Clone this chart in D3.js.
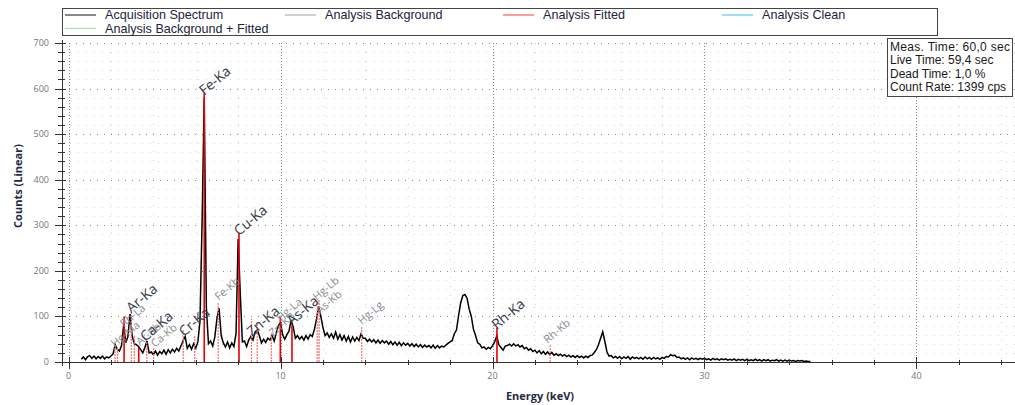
<!DOCTYPE html>
<html><head><meta charset="utf-8">
<script src="https://cdn.jsdelivr.net/npm/d3@7"></script>
<style>
body{margin:0;background:#fff;}
svg{display:block;}
</style></head>
<body><svg id="chart" width="1015" height="405"></svg>
<script>
// ---------- data ----------
const legendItems = ["Acquisition Spectrum","Analysis Background","Analysis Fitted","Analysis Clean","Analysis Background + Fitted"];
const legendColors = ["#3a3a3a","#b0b0b0","#ff5a5a","#5ccaf0","#a6e6a0"];
const infoLines = ["Meas. Time: 60,0 sec","Live Time: 59,4 sec","Dead Time: 1,0 %","Count Rate: 1399 cps"];
const xTickLabels = [0,10,20,30,40];
const yTickLabels = [0,100,200,300,400,500,600,700];
const energyStart = 0.6, energyStep = 0.1;
const counts = [
 6,11,5,12,
 14,8,13,7,12,8,13,7,11,9,
 13,18,38,28,24,36,82,42,56,105,
 58,40,38,34,27,20,32,46,20,22,
 16,24,15,23,18,26,17,27,20,28,
 22,30,24,35,46,56,30,38,28,40,
 30,44,90,310,580,120,40,46,35,55,
 95,118,58,42,33,44,31,42,34,62,
 270,150,44,46,34,48,56,48,66,70,
 58,42,50,43,52,48,58,46,64,80,
 86,60,50,60,68,92,76,52,58,50,
 56,48,58,50,60,56,72,95,122,100,
 76,58,64,54,62,52,66,50,60,48,
 58,46,56,44,55,46,54,47,62,52,
 52,45,50,44,49,42,48,41,47,42,
 46,39,45,38,44,37,43,36,42,37,
 41,35,40,34,39,33,38,32,37,33,
 36,31,37,30,36,31,35,33,37,41,
 44,47,62,70,102,130,146,148,140,116,
 100,72,58,42,39,31,33,28,32,29,
 36,44,57,38,32,26,35,36,39,35,
 40,35,38,33,36,29,32,26,29,23,
 26,20,25,18,23,17,22,16,21,15,
 18,14,17,13,16,12,15,11,14,10,
 14,10,13,9,13,10,14,15,21,27,
 38,52,66,45,22,13,14,9,12,8,
 12,7,11,8,12,6,11,8,10,7,
 10,6,11,7,10,6,10,7,9,6,
 10,8,12,11,16,14,15,10,11,7,
 9,6,9,5,9,6,8,5,8,6,
 8,5,7,4,8,5,7,4,7,5,
 7,4,6,4,7,3,6,4,6,3,
 6,3,5,3,6,3,5,2,5,3,
 5,2,4,3,5,2,4,2,4,2,
 4,2,3,1,3,2,3,1,2,1,
 1
];
// element line markers: energy (keV), height (counts), solid?
const markerEnergy = [2.19,2.31,2.62,2.96,3.10,3.31,3.69,4.01,5.41,5.95,6.40,7.06,8.04,8.63,8.90,9.57,9.99,10.54,11.73,11.82,13.83,20.21,22.72];
const markerHeight = [37,30,100,110,60,31,48,30,70,60,590,130,283,95,88,63,98,80,130,136,77,75,37];
const markerSolid  = [0,0,1,0,0,1,0,0,0,0,1,0,1,0,0,0,1,1,0,0,0,1,0];
// peak labels: text, anchor energy, anchor counts, big?
const labelText   = ["Hg-Ma","Rh-La","Ar-Ka","Ar-Kb","Ca-Ka","Ca-Kb","Cr-Ka","Fe-Ka","Fe-Kb","Cu-Ka","Zn-Ka","Zn-Kb","Hg-La","As-Ka","Hg-Lb","As-Kb","Hg-Lg","Rh-Ka","Rh-Kb"];
const labelEnergy = [2.19,2.62,2.96,3.37,3.62,4.07,5.44,6.40,7.08,8.04,8.65,9.64,9.99,10.53,11.71,11.87,13.83,20.20,22.60];
const labelCounts = [31,75,107,35,44,31,55,584,134,276,55,55,88,79,134,105,81,70,40];
const labelBig    = [0,0,1,0,1,0,1,1,0,1,1,0,0,1,0,0,0,1,0];

// ---------- chart ----------
const svg = d3.select("#chart");
const L = 62, R = 1015, T = 43, B = 362;
const x = d3.scaleLinear().domain([-0.31, 44.65]).range([L, R]);
const y = d3.scaleLinear().domain([0, 700]).range([B, T]);

// grid (dotted): minor then major
const g = svg.append("g");
g.selectAll("line.hmin").data(d3.range(20, 701, 20).filter(d => d % 100 !== 0)).join("line")
  .attr("x1", L).attr("x2", R).attr("y1", d => Math.round(y(d)) + 0.5).attr("y2", d => Math.round(y(d)) + 0.5)
  .attr("stroke", "#d4d4d4").attr("stroke-width", 1).attr("stroke-dasharray", "1,7");
g.selectAll("line.vmin").data(d3.range(2, 45, 2).filter(d => d % 10 !== 0)).join("line")
  .attr("x1", d => Math.round(x(d)) + 0.5).attr("x2", d => Math.round(x(d)) + 0.5).attr("y1", T).attr("y2", B)
  .attr("stroke", "#d4d4d4").attr("stroke-width", 1).attr("stroke-dasharray", "1,8");
g.selectAll("line.hmaj").data(d3.range(100, 701, 100)).join("line")
  .attr("x1", L).attr("x2", R).attr("y1", d => Math.round(y(d)) + 0.5).attr("y2", d => Math.round(y(d)) + 0.5)
  .attr("stroke", "#8a8a8a").attr("stroke-width", 1).attr("stroke-dasharray", "1,6");
g.selectAll("line.vmaj").data(d3.range(0, 45, 10)).join("line")
  .attr("x1", d => Math.round(x(d)) + 0.5).attr("x2", d => Math.round(x(d)) + 0.5).attr("y1", T).attr("y2", B)
  .attr("stroke", "#8a8a8a").attr("stroke-width", 1).attr("stroke-dasharray", "1,2");

// spectrum
const spec = counts.map((c, i) => [energyStart + i * energyStep, c]);
svg.append("path").datum(spec)
  .attr("fill", "none").attr("stroke", "#000").attr("stroke-width", 1.5)
  .attr("d", d3.line().x(d => x(d[0])).y(d => y(d[1])));

// markers
svg.append("g").selectAll("line").data(markerEnergy).join("line")
  .attr("x1", d => x(d)).attr("x2", d => x(d))
  .attr("y1", y(0)).attr("y2", (d, i) => y(markerHeight[i]))
  .attr("stroke", (d, i) => markerSolid[i] ? "#e60000" : "#ff7070")
  .attr("stroke-width", (d, i) => markerSolid[i] ? 1.6 : 1.2)
  .attr("stroke-dasharray", (d, i) => markerSolid[i] ? null : "2,1");

// labels
svg.append("g").selectAll("text").data(labelText).join("text")
  .attr("transform", (d, i) => `translate(${x(labelEnergy[i])},${y(labelCounts[i])}) rotate(-40)`)
  .attr("font-family", "Open Sans, sans-serif")
  .attr("font-size", (d, i) => labelBig[i] ? 14 : 11)
  .attr("fill", (d, i) => labelBig[i] ? "#363b48" : "#8a8d94")
  .text(d => d);

// axes
const axisColor = "#333";
const xAxis = svg.append("g");
xAxis.append("line").attr("x1", 57).attr("x2", R).attr("y1", B + 0.5).attr("y2", B + 0.5).attr("stroke", axisColor);
xAxis.selectAll("line.minor").data(d3.range(0, 45, 2)).join("line")
  .attr("x1", d => Math.round(x(d)) + 0.5).attr("x2", d => Math.round(x(d)) + 0.5)
  .attr("y1", d => d % 10 === 0 ? B - 5 : B - 2).attr("y2", d => d % 10 === 0 ? B + 7 : B + 3)
  .attr("stroke", axisColor);
xAxis.selectAll("text").data(xTickLabels).join("text")
  .attr("x", d => x(d)).attr("y", 379).attr("text-anchor", "middle")
  .attr("font-family", "Open Sans, sans-serif").attr("font-size", 9).attr("fill", "#777")
  .text(d => d);

const yAxis = svg.append("g");
yAxis.append("line").attr("x1", L + 0.5).attr("x2", L + 0.5).attr("y1", T - 3).attr("y2", B + 4).attr("stroke", axisColor);
yAxis.selectAll("line.minor").data(d3.range(0, 701, 20)).join("line")
  .attr("x1", d => d % 100 === 0 ? 55 : 58).attr("x2", d => d % 100 === 0 ? 66 : 65)
  .attr("y1", d => Math.round(y(d)) + 0.5).attr("y2", d => Math.round(y(d)) + 0.5)
  .attr("stroke", axisColor);
yAxis.selectAll("text").data(yTickLabels).join("text")
  .attr("x", 49).attr("y", d => y(d) + 3).attr("text-anchor", "end")
  .attr("font-family", "Open Sans, sans-serif").attr("font-size", 9).attr("fill", "#777")
  .text(d => d);

// axis titles
svg.append("text").attr("transform", "translate(22,186) rotate(-90)").attr("text-anchor", "middle")
  .attr("font-family", "Open Sans, sans-serif").attr("font-weight", "bold").attr("font-size", 11)
  .attr("fill", "#1f2a44").text("Counts (Linear)");
svg.append("text").attr("x", 540).attr("y", 400).attr("text-anchor", "middle")
  .attr("font-family", "Open Sans, sans-serif").attr("font-weight", "bold").attr("font-size", 11)
  .attr("fill", "#1f2a44").text("Energy (keV)");

// legend
const lg = svg.append("g");
lg.append("rect").attr("x", 62.5).attr("y", 8.5).attr("width", 875).attr("height", 27)
  .attr("fill", "#fff").attr("stroke", "#444");
const legX = [65, 285, 503, 722];
legendItems.forEach((t, i) => {
  const col = i % 4, row = Math.floor(i / 4);
  const yy = 15 + row * 13.5;
  lg.append("line").attr("x1", legX[col]).attr("x2", legX[col] + 31).attr("y1", yy).attr("y2", yy)
    .attr("stroke", legendColors[i]).attr("stroke-width", 1.2);
  lg.append("text").attr("x", legX[col] + 40).attr("y", yy + 4)
    .attr("font-family", "Liberation Sans, Arial, sans-serif").attr("font-size", 12.6).attr("fill", "#23233d")
    .text(t);
});

// info box
const ib = svg.append("g");
ib.append("rect").attr("x", 887.5).attr("y", 38.5).attr("width", 125).attr("height", 58)
  .attr("fill", "#fff").attr("stroke", "#444");
infoLines.forEach((t, i) => {
  ib.append("text").attr("x", 890).attr("y", 50.5 + i * 13.5)
    .attr("font-family", "Liberation Sans, Arial, sans-serif").attr("font-size", 12).attr("fill", "#1a1a1a")
    .attr("textLength", t === infoLines[0] ? 120 : null)
    .text(t);
});
</script></body></html>
